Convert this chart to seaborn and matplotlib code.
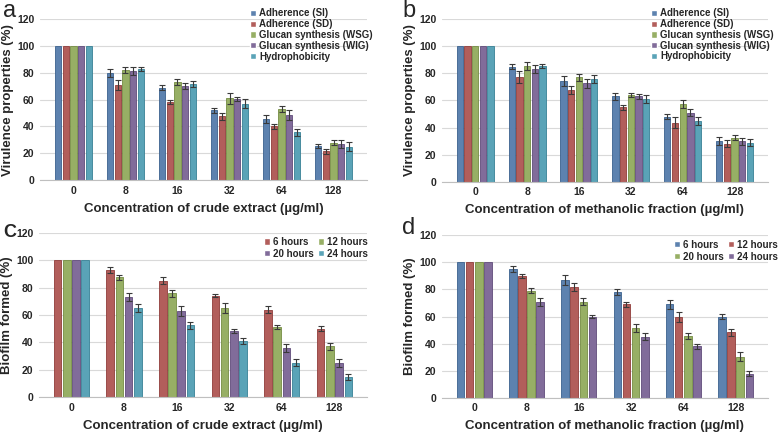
import matplotlib
matplotlib.use("Agg")
import matplotlib.pyplot as plt
import seaborn as sns
import pandas as pd
import numpy as np

conc = ["0", "8", "16", "32", "64", "128"]

# virulence panels (a: crude extract, b: methanolic fraction)
vir_names = ["Adherence (SI)", "Adherence (SD)", "Glucan synthesis (WSG)",
             "Glucan synthesis (WIG)", "Hydrophobicity"]
vir_colors = ["#4F81BD", "#C0504D", "#9BBB59", "#8064A2", "#4BACC6"]

a_si = [100, 80, 69, 52, 45.5, 25.5]
a_sd = [100, 71, 58, 47.5, 40, 21.5]
a_wsg = [100, 82, 73, 61, 53, 28]
a_wig = [100, 81, 70, 60.5, 48.5, 27]
a_hyd = [100, 83, 71.5, 57, 35.5, 25]
a_si_err = [0, 3, 2, 2, 3, 1.5]
a_sd_err = [0, 3.5, 1.5, 2.5, 2, 2]
a_wsg_err = [0, 2.5, 2, 4, 2.5, 2]
a_wig_err = [0, 3, 2, 1.5, 4, 3]
a_hyd_err = [0, 1.5, 2, 3.5, 2.5, 3.5]

b_si = [100, 85, 74.5, 63, 48, 30]
b_sd = [100, 77.5, 68, 55, 43.5, 28]
b_wsg = [100, 85.5, 77, 64, 57.5, 32.5]
b_wig = [100, 83.5, 72.5, 63, 51, 30]
b_hyd = [100, 85.5, 75.5, 61, 45, 29]
b_si_err = [0, 2, 3.5, 2.5, 2, 3]
b_sd_err = [0, 4.5, 3, 2, 4, 2.5]
b_wsg_err = [0, 3, 2.5, 1.5, 3, 2]
b_wig_err = [0, 3, 3, 2, 2.5, 2.5]
b_hyd_err = [0, 1.5, 3, 3, 3, 2.5]

# biofilm panels
hours = ["6 hours", "12 hours", "20 hours", "24 hours"]
c_colors = ["#C0504D", "#9BBB59", "#8064A2", "#4BACC6"]
d_colors = ["#4F81BD", "#C0504D", "#9BBB59", "#8064A2"]

c_6 = [100, 93, 85, 74, 64, 50]
c_12 = [100, 87.5, 76, 65, 51, 37]
c_20 = [100, 73, 63, 48.5, 36, 25]
c_24 = [100, 65, 52.5, 41, 25, 14.5]
c_6_err = [0, 2, 2.5, 1, 2.5, 2]
c_12_err = [0, 2, 2.5, 3.5, 1.5, 2.5]
c_20_err = [0, 3, 3.5, 1.5, 3, 3]
c_24_err = [0, 3, 2.5, 2, 2.5, 2]

d_6 = [100, 95, 87, 78, 69, 60]
d_12 = [100, 90, 82, 69, 59.5, 48.5]
d_20 = [100, 79, 71, 51.5, 45.5, 30.5]
d_24 = [100, 70.5, 60, 45, 38, 18]
d_6_err = [0, 2.5, 3.5, 2.5, 3.5, 1.5]
d_12_err = [0, 1.5, 3, 2, 3.5, 2.5]
d_20_err = [0, 2, 2.5, 3, 2, 3]
d_24_err = [0, 3, 1, 2.5, 2, 2]

FONT = "Liberation Sans"


def long_df(names, values):
    rows = []
    for name, vals in zip(names, values):
        for c, v in zip(conc, vals):
            rows.append({"conc": c, "series": name, "value": v})
    return pd.DataFrame(rows)


def darker(color, f=0.75):
    r, g, b = matplotlib.colors.to_rgb(color)
    return (r * f, g * f, b * f)


def draw_panel(ax, names, values, errs, colors, width, xlabel, ylabel):
    df = long_df(names, values)
    sns.barplot(data=df, x="conc", y="value", hue="series", order=conc,
                hue_order=names, palette=colors, width=width, gap=0.18,
                errorbar=None, ax=ax)
    for cont, err, col in zip(ax.containers, errs, colors):
        xs, hs, es = [], [], []
        for p, e in zip(cont, err):
            p.set_edgecolor(darker(col))
            p.set_linewidth(0.6)
            if e > 0:
                xs.append(p.get_x() + p.get_width() / 2)
                hs.append(p.get_height())
                es.append(e)
        ax.errorbar(xs, hs, yerr=es, fmt="none", ecolor="#3a3a3a",
                    elinewidth=0.8, capsize=2, capthick=0.8)
    ax.set_ylim(0, 120)
    ax.set_yticks(np.arange(0, 121, 20))
    ax.yaxis.grid(True, color="#d9d9d9", linewidth=0.8)
    ax.set_axisbelow(True)
    sns.despine(ax=ax, left=True)
    ax.spines["bottom"].set_color("#bfbfbf")
    ax.tick_params(length=0, labelsize=7.5, pad=4)
    for t in ax.get_xticklabels() + ax.get_yticklabels():
        t.set_fontweight("bold")
    ax.set_xlabel(xlabel, fontsize=9.5, fontweight="bold", labelpad=5)
    ax.set_ylabel(ylabel, fontsize=9.5, fontweight="bold", labelpad=2)
    ax.get_legend().remove()


sns.set_style("white")
plt.rcParams["font.family"] = [FONT, "DejaVu Sans"]

fig = plt.figure(figsize=(7.78, 4.33), dpi=100)
ax_a = fig.add_axes([0.0514, 0.584, 0.4203, 0.372])
ax_b = fig.add_axes([0.568, 0.580, 0.419, 0.376])
ax_c = fig.add_axes([0.050, 0.083, 0.4217, 0.379])
ax_d = fig.add_axes([0.568, 0.081, 0.419, 0.376])

draw_panel(ax_a, vir_names, [a_si, a_sd, a_wsg, a_wig, a_hyd],
           [a_si_err, a_sd_err, a_wsg_err, a_wig_err, a_hyd_err],
           vir_colors, 0.74, "Concentration of crude extract (\u00b5g/ml)",
           "Virulence properties (%)")
draw_panel(ax_b, vir_names, [b_si, b_sd, b_wsg, b_wig, b_hyd],
           [b_si_err, b_sd_err, b_wsg_err, b_wig_err, b_hyd_err],
           vir_colors, 0.74, "Concentration of methanolic fraction (\u00b5g/ml)",
           "Virulence properties (%)")
draw_panel(ax_c, hours, [c_6, c_12, c_20, c_24],
           [c_6_err, c_12_err, c_20_err, c_24_err],
           c_colors, 0.7, "Concentration of crude extract (\u00b5g/ml)",
           "Biofilm formed (%)")
draw_panel(ax_d, hours, [d_6, d_12, d_20, d_24],
           [d_6_err, d_12_err, d_20_err, d_24_err],
           d_colors, 0.7, "Concentration of methanolic fraction (\u00b5g/ml)",
           "Biofilm formed (%)")

leg_kw = dict(frameon=False, handlelength=0.6, handleheight=0.6,
              handletextpad=0.35, borderaxespad=0)
for ax in (ax_a, ax_b):
    h, l = ax.get_legend_handles_labels()
    ax.legend(h, l, loc="upper left", bbox_to_anchor=(0.63, 1.09),
              labelspacing=0.08,
              prop={"family": FONT, "weight": "bold", "size": 7}, **leg_kw)
# two columns filled row by row: 6 | 12 on top, 20 | 24 below
for ax, anchor in ((ax_c, (1.015, 1.0)), (ax_d, (1.043, 0.995))):
    h, l = ax.get_legend_handles_labels()
    idx = [0, 2, 1, 3]
    ax.legend([h[i] for i in idx], [l[i] for i in idx], loc="upper right",
              bbox_to_anchor=anchor, ncol=2, labelspacing=0.2,
              columnspacing=0.4,
              prop={"family": FONT, "weight": "bold", "size": 7}, **leg_kw)

fig.text(0.004, 0.961, "a", fontsize=17)
fig.text(0.517, 0.961, "b", fontsize=17)
fig.text(0.004, 0.452, "C", fontsize=13, fontweight="bold")
fig.text(0.517, 0.459, "d", fontsize=17)

fig.savefig("out.png", dpi=100)
